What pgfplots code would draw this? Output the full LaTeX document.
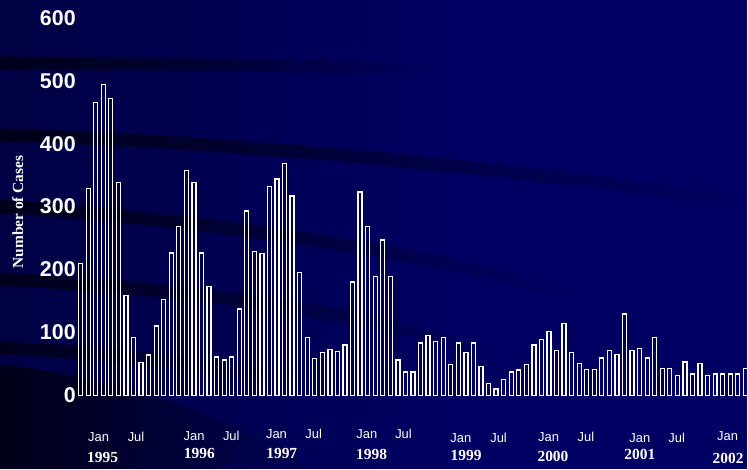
\documentclass[border=0pt]{standalone}
\usepackage{fontspec}
\setmainfont{Liberation Serif}
\newfontfamily\arialfont{Liberation Sans}
\usepackage{pgfplots}
\pgfplotsset{compat=1.18}
\usetikzlibrary{fadings,shadings}
\definecolor{bgmain}{RGB}{0,0,98}
\definecolor{band}{RGB}{0,0,16}
\tikzfading[name=fadeR, left color=transparent!0, right color=transparent!100]
\begin{document}
\begin{tikzpicture}
\begin{scope}[x=1bp,y=1bp]
\useasboundingbox (0,0) rectangle (748,470);
\fill[bgmain] (0,0) rectangle (748,470);
\fill[black, opacity=0.3, path fading=fadeR] (0,0) rectangle (450,470);
% decorative dark swooshes
\draw[line width=13, band, opacity=0.8, path fading=fadeR] (-10,407) .. controls (150,406) and (300,405) .. (440,400);
\draw[line width=13, band, opacity=0.8, path fading=fadeR] (-10,335) .. controls (250,328) and (520,300) .. (748,268);
\draw[line width=13, band, opacity=0.8, path fading=fadeR] (-10,264) .. controls (200,250) and (420,220) .. (570,175);
\draw[line width=13, band, opacity=0.8, path fading=fadeR] (-10,191) .. controls (150,182) and (350,165) .. (490,115);
\draw[line width=13, band, opacity=0.8, path fading=fadeR] (-10,122) .. controls (120,116) and (240,103) .. (330,80);
\fill[band, opacity=0.8, path fading=fadeR] (0,0) -- (0,105) .. controls (120,90) and (230,55) .. (320,0) -- cycle;
% x labels
\begin{scope}[every node/.style={text=white, inner sep=0pt}]
\foreach \x/\y in {98.8/438, 194.5/437, 277/435, 367.5/435, 461.7/439, 549.7/437.7, 641/439, 729/437}
  \node[font=\arialfont\fontsize{13}{13}\selectfont] at (\x,470-\y) {Jan};
\foreach \x/\y in {136.3/438, 231.7/437, 314.3/435, 404.3/435, 499.5/439, 587/437.7, 678/439}
  \node[font=\arialfont\fontsize{13}{13}\selectfont] at (\x,470-\y) {Jul};
\foreach \x/\y/\t in {102.8/458/1995, 199.7/454/1996, 282.3/454/1997, 372.3/455/1998, 467/456/1999, 554/457/2000, 641/455/2001, 729.5/459/2002}
  \node[font=\bfseries\fontsize{15.5}{15.5}\selectfont] at (\x,470-\y) {\t};
\node[font=\bfseries\fontsize{15.5}{15.5}\selectfont, rotate=90] at (17.8,257.6) {Number of Cases};
\end{scope}
\end{scope}
\begin{axis}[
  at={(77bp,74bp)}, anchor=south west,
  scale only axis, width=670.9bp, height=378bp,
  xmin=0.5, xmax=89.15, ymin=0, ymax=600,
  clip=false,
  axis line style={draw=none},
  tick style={draw=none},
  major tick length=0pt,
  xtick=\empty,
  ytick={0,100,200,300,400,500,600},
  /pgf/number format/assume math mode=true,
  yticklabel style={font=\arialfont\bfseries\fontsize{21.5}{21.5}\selectfont, text=white, inner sep=0pt, xshift=-1bp},
]
\addplot[ybar, bar width=4bp, draw=white, line width=1.3bp, fill=none] coordinates {
(1,210) (2,329) (3,466) (4,494) (5,472) (6,338) (7,159) (8,92) (9,52) (10,64)
(11,110) (12,152) (13,226) (14,268) (15,357) (16,338) (17,226) (18,173) (19,61) (20,56)
(21,61) (22,137) (23,293) (24,229) (25,225) (26,332) (27,344) (28,369) (29,317) (30,195)
(31,92) (32,58) (33,68) (34,73) (35,70) (36,80) (37,180) (38,323) (39,268) (40,189)
(41,247) (42,189) (43,56) (44,37) (45,37) (46,83) (47,95) (48,86) (49,92) (50,49)
(51,83) (52,68) (53,83) (54,46) (55,19) (56,10) (57,25) (58,37) (59,40) (60,49)
(61,80) (62,89) (63,101) (64,71) (65,114) (66,68) (67,50) (68,41) (69,41) (70,59)
(71,71) (72,65) (73,129) (74,71) (75,74) (76,59) (77,92) (78,43) (79,43) (80,31)
(81,53) (82,34) (83,50) (84,31) (85,34) (86,34) (87,34) (88,34) (89,43)
};
\end{axis}
\end{tikzpicture}
\end{document}
